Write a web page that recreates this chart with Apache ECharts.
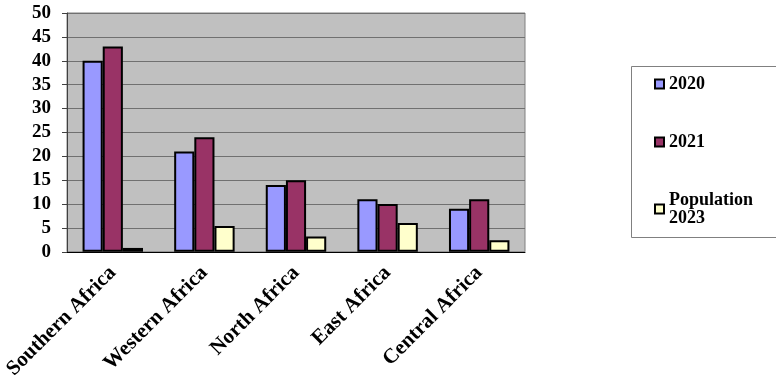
<!DOCTYPE html>
<html>
<head>
<meta charset="utf-8">
<script src="https://cdn.jsdelivr.net/npm/echarts@6/dist/echarts.min.js"></script>
<style>
  html, body { margin: 0; padding: 0; background: #fff; }
  #chart { width: 776px; height: 382px; }
</style>
</head>
<body>
<div id="chart"></div>
<script>
// 数据
var regions = ['Southern Africa', 'Western Africa', 'North Africa', 'East Africa', 'Central Africa'];
var data2020 = [40, 21, 14, 11, 9];
var data2021 = [43, 24, 15, 10, 11];
var dataPop2023 = [0.8, 5.4, 3.2, 6, 2.4];
var yTicks = [0, 5, 10, 15, 20, 25, 30, 35, 40, 45, 50];

var font = '"Liberation Serif", "Times New Roman", serif';
var chart = echarts.init(document.getElementById('chart'));

function barSeries(name, values, color) {
    return {
        name: name,
        type: 'bar',
        data: values,
        barGap: '0%',
        barCategoryGap: '34%',
        itemStyle: { color: color, borderColor: '#000', borderWidth: 2 }
    };
}

var option = {
    animation: false,
    backgroundColor: '#fff',
    grid: {
        left: 67, top: 13, width: 458, height: 239,
        show: true, backgroundColor: '#C0C0C0', borderColor: '#808080', borderWidth: 1
    },
    graphic: [{
        type: 'rect',
        left: 631, top: 66,
        shape: { width: 150, height: 171 },
        style: { fill: '#fff', stroke: '#808080', lineWidth: 1 },
        z: 0
    }],
    legend: {
        orient: 'vertical',
        left: 649, top: 70,
        itemWidth: 9, itemHeight: 9,
        itemGap: 40,
        icon: 'rect',
        textStyle: { fontFamily: font, fontWeight: 'bold', fontSize: 18, color: '#000', lineHeight: 18 },
        formatter: function(name) {
            return name === 'Population 2023' ? 'Population\n2023' : name;
        },
        z: 5
    },
    xAxis: {
        type: 'category',
        data: regions,
        axisLine: { lineStyle: { color: '#000', width: 1 } },
        axisTick: { length: 6, lineStyle: { color: '#404040' } },
        axisLabel: {
            rotate: 45, margin: 18, interval: 0,
            fontFamily: font, fontWeight: 'bold', fontSize: 21, color: '#000'
        }
    },
    yAxis: {
        type: 'value',
        min: 0, max: 50, interval: 5,
        axisLine: { show: true, lineStyle: { color: '#404040' } },
        axisTick: { show: true, length: 5, lineStyle: { color: '#404040' } },
        splitLine: { lineStyle: { color: '#707070', width: 1 } },
        axisLabel: {
            margin: 16,
            fontFamily: font, fontWeight: 'bold', fontSize: 19, color: '#000',
            formatter: function(v) { return yTicks.indexOf(v) >= 0 ? String(v) : ''; }
        }
    },
    series: [
        barSeries('2020', data2020, '#9999FF'),
        barSeries('2021', data2021, '#993366'),
        barSeries('Population 2023', dataPop2023, '#FFFFCC')
    ]
};

chart.setOption(option);
</script>
</body>
</html>
